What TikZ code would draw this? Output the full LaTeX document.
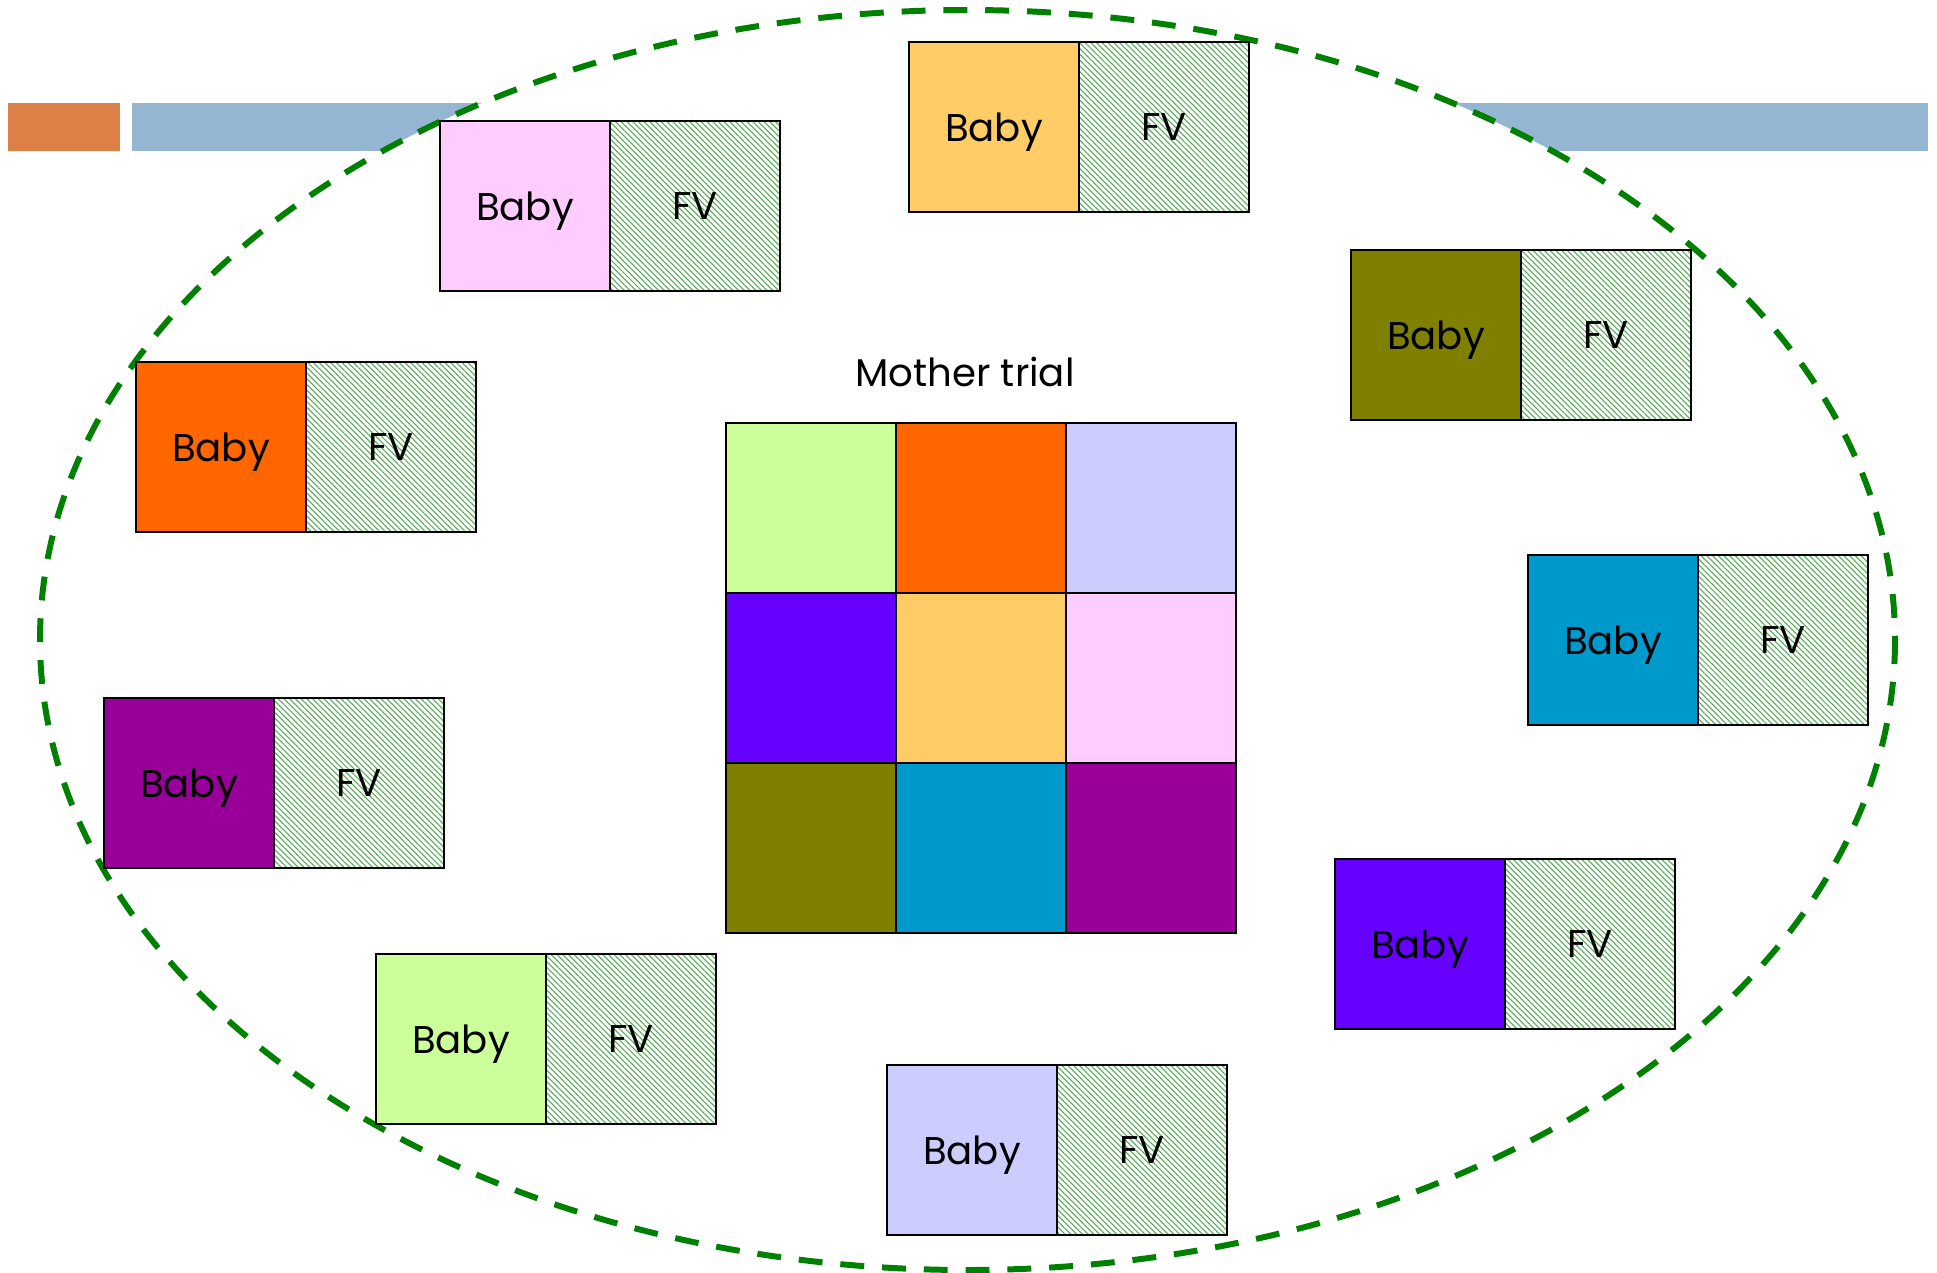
\documentclass[tikz,border=0pt]{standalone}
\usepackage{fontspec}
\setmainfont{Poppins}
\usepackage{xcolor}
\usepackage{tikz}
\usetikzlibrary{positioning,patterns.meta}

\definecolor{barorange}{HTML}{DD8047}
\definecolor{barblue}{HTML}{94B6D2}
\definecolor{ringgreen}{HTML}{008000}
\definecolor{hatchgreen}{RGB}{80,170,80}
\definecolor{cLime}{HTML}{CCFF99}
\definecolor{cOrange}{HTML}{FF6600}
\definecolor{cLavender}{HTML}{CCCCFF}
\definecolor{cViolet}{HTML}{6600FF}
\definecolor{cGold}{HTML}{FFCC66}
\definecolor{cPink}{HTML}{FFCCFF}
\definecolor{cOlive}{HTML}{808000}
\definecolor{cCyan}{HTML}{0099CC}
\definecolor{cPurple}{HTML}{990099}

\tikzset{
	cell/.style={draw=black, line width=1pt, minimum size=3.4cm, inner sep=0pt, outer sep=0pt},
	baby/.style={cell, anchor=north west, text depth=0pt, font=\fontsize{22}{26}\selectfont},
	fv/.style={cell, pattern={Lines[angle=-45,distance=2.3pt,line width=0.6pt]}, pattern color=hatchgreen, text depth=0pt, font=\fontsize{22}{26}\selectfont},
	ring/.style={draw=ringgreen, fill=white, line width=3.4pt, dash pattern=on 13.6pt off 10.2pt}
}

\begin{document}
\begin{tikzpicture}[x=0.02cm, y=-0.02cm]

\useasboundingbox (0,0) rectangle (1937,1272);

% title bars
\fill[barorange] (8,103) rectangle (120,151);
\fill[barblue] (132,103) rectangle (1928,151);

\draw[ring] (967.5,640) ellipse [x radius=927.5, y radius=630];

% baby trials round the ring
\foreach \x/\y/\c/\n in {909/42/cGold/a, 440/121/cPink/b, 1351/250/cOlive/c,
	136/362/cOrange/d, 1528/555/cCyan/e, 104/698/cPurple/f,
	1335/859/cViolet/g, 376/954/cLime/h, 887/1065/cLavender/i}{
	\node[baby, fill=\c] (baby\n) at (\x,\y) {Baby};
	\node[fv, right=0pt of baby\n] (fv\n) {FV};
}

% mother trial
\foreach \col/\row/\c in {0/0/cLime, 1/0/cOrange, 2/0/cLavender,
	0/1/cViolet, 1/1/cGold, 2/1/cPink,
	0/2/cOlive, 1/2/cCyan, 2/2/cPurple}{
	\node[cell, fill=\c] (m\col\row) at (811+170*\col, 508+170*\row) {};
}

\node[font=\fontsize{22}{26}\selectfont] (mtitle) at (965,372) {Mother trial};

\end{tikzpicture}
\end{document}
